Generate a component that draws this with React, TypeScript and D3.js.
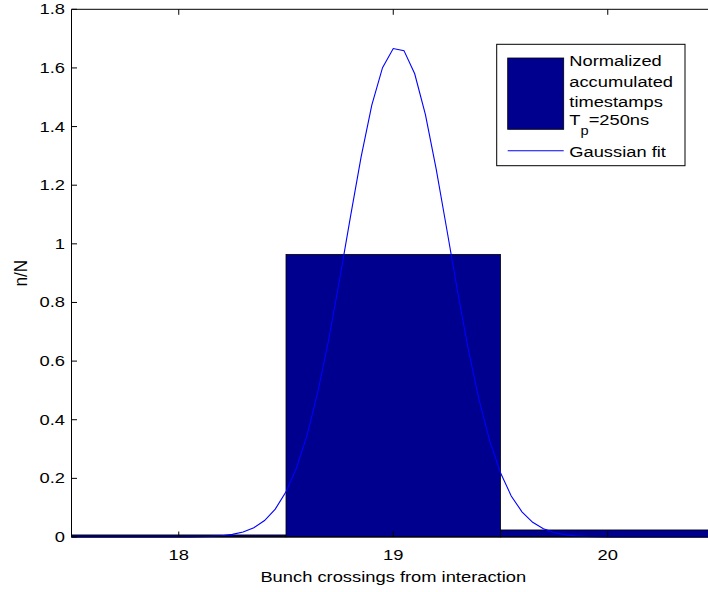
import React from 'react'
import * as d3 from 'd3'

// histogram bins (unit width) and the fitted gaussian
const binCenters = [18, 19, 20]
const binValues = [0.007, 0.964, 0.024]

const fitX = [
  17.5, 17.55, 17.6, 17.65, 17.7, 17.75, 17.8, 17.85, 17.9, 17.95,
  18.0, 18.05, 18.1, 18.15, 18.2, 18.25, 18.3, 18.35, 18.4, 18.45,
  18.5, 18.55, 18.6, 18.65, 18.7, 18.75, 18.8, 18.85, 18.9, 18.95,
  19.0, 19.05, 19.1, 19.15, 19.2, 19.25, 19.3, 19.35, 19.4, 19.45,
  19.5, 19.55, 19.6, 19.65, 19.7, 19.75, 19.8, 19.85, 19.9, 19.95,
  20.0, 20.05, 20.1, 20.15, 20.2, 20.25, 20.3, 20.35, 20.4, 20.45, 20.5,
]
const fitY = [
  0, 0, 0, 0, 0, 0, 0, 0, 0, 0.0001,
  0.0002, 0.0004, 0.001, 0.0021, 0.0044, 0.0089, 0.0172, 0.0318, 0.0561, 0.095,
  0.154, 0.238, 0.352, 0.5, 0.677, 0.879, 1.09, 1.296, 1.473, 1.601,
  1.666, 1.659, 1.58, 1.441, 1.256, 1.048, 0.837, 0.64, 0.468, 0.327,
  0.219, 0.14, 0.086, 0.05, 0.028, 0.0152, 0.0078, 0.0038, 0.0018, 0.0008,
  0.0003, 0.0001, 0, 0, 0, 0, 0, 0, 0, 0, 0,
]

const xTicks = [18, 19, 20]
const yTicks = [0, 0.2, 0.4, 0.6, 0.8, 1, 1.2, 1.4, 1.6, 1.8]

const xLabel = 'Bunch crossings from interaction'
const yLabel = 'n/N'
const legendLines = ['Normalized', 'accumulated', 'timestamps']
const fitLabel = 'Gaussian fit'

const W = 708
const H = 592
const left = 71.5
const right = 715
const top = 9.3
const bottom = 537

const font = 'Liberation Sans, Arial, Helvetica, sans-serif'
const sx = 1.31 // the figure is stretched horizontally

const App = () => {
  const x = d3.scaleLinear().domain([17.5, 20.5]).range([left, right])
  const y = d3.scaleLinear().domain([0, 1.8]).range([bottom, top])

  const line = d3
    .line<number>()
    .x((_, i) => x(fitX[i]))
    .y((d) => y(d))

  const fmt = (v: number) => String(Math.round(v * 10) / 10)

  const lx = 496.7
  const ly = 44.3

  return (
    <svg
      width={W}
      height={H}
      style={{ position: 'absolute', left: 0, top: 0, background: 'white' }}
      fontFamily={font}
    >
      {binCenters.map((c, i) => (
        <rect
          key={c}
          x={x(c - 0.5)}
          y={y(binValues[i])}
          width={x(c + 0.5) - x(c - 0.5)}
          height={y(0) - y(binValues[i])}
          fill="#00008f"
          stroke="#000"
          strokeWidth={0.8}
        />
      ))}

      <path d={line(fitY) ?? ''} fill="none" stroke="#0000ff" strokeWidth={1.1} />

      {/* axes box */}
      <line x1={left} x2={right} y1={top} y2={top} stroke="#000" />
      <line x1={left} x2={right} y1={bottom} y2={bottom} stroke="#000" />
      <line x1={left} x2={left} y1={top} y2={bottom} stroke="#000" />
      <line x1={right} x2={right} y1={top} y2={bottom} stroke="#000" />

      {xTicks.map((t) => (
        <g key={t}>
          <line x1={x(t)} x2={x(t)} y1={bottom} y2={bottom - 5.5} stroke="#000" />
          <line x1={x(t)} x2={x(t)} y1={top} y2={top + 5.5} stroke="#000" />
          <text
            transform={`translate(${x(t)},560) scale(${sx},1)`}
            textAnchor="middle"
            fontSize={14}
          >
            {t}
          </text>
        </g>
      ))}

      {yTicks.map((t) => (
        <g key={t}>
          <line x1={left} x2={left + 5.5} y1={y(t)} y2={y(t)} stroke="#000" />
          <line x1={right} x2={right - 5.5} y1={y(t)} y2={y(t)} stroke="#000" />
          <text
            transform={`translate(65,${y(t) + 5}) scale(${sx},1)`}
            textAnchor="end"
            fontSize={14}
          >
            {fmt(t)}
          </text>
        </g>
      ))}

      <text
        transform={`translate(${(left + right) / 2},582) scale(${sx},1)`}
        textAnchor="middle"
        fontSize={14}
      >
        {xLabel}
      </text>
      <text
        transform={`translate(27,${(top + bottom) / 2}) rotate(-90) scale(1.22,${sx})`}
        textAnchor="middle"
        fontSize={14}
      >
        {yLabel}
      </text>

      {/* legend */}
      <g>
        <rect x={lx} y={ly} width={188.3} height={121.4} fill="#fff" stroke="#000" />
        <rect x={507.7} y={58} width={56} height={71.3} fill="#00008f" stroke="#000" strokeWidth={0.8} />
        {legendLines.map((s, i) => (
          <text
            key={s}
            transform={`translate(569.3,${66 + i * 20.7}) scale(1.22,1)`}
            fontSize={15}
          >
            {s}
          </text>
        ))}
        <text transform="translate(569.3,124.5) scale(1.22,1)" fontSize={15}>
          T
          <tspan fontSize={12} dy={11}>
            p
          </tspan>
          <tspan dy={-11}>=250ns</tspan>
        </text>
        <line x1={507.7} x2={563.7} y1={150.7} y2={150.7} stroke="#0000ff" strokeWidth={1.1} />
        <text transform="translate(569.3,156.7) scale(1.22,1)" fontSize={15}>
          {fitLabel}
        </text>
      </g>
    </svg>
  )
}

export default App
